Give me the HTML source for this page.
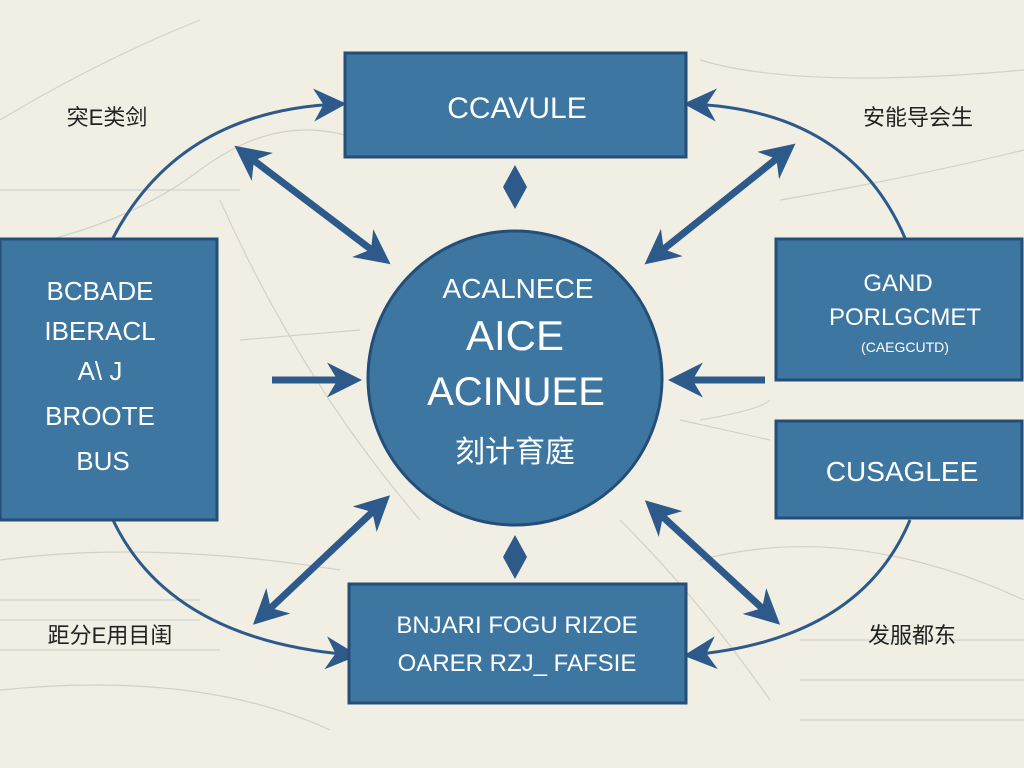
<!DOCTYPE html>
<html><head><meta charset="utf-8"><style>
html,body{margin:0;padding:0;width:1024px;height:768px;overflow:hidden;background:#f1efe4;}
svg{display:block}
text{font-family:"Liberation Sans","Noto Sans CJK SC",sans-serif;}
</style></head><body>
<svg width="1024" height="768" viewBox="0 0 1024 768" xmlns="http://www.w3.org/2000/svg">
<defs>
<marker id="ah" viewBox="0 0 10 10" refX="8" refY="5" markerWidth="5" markerHeight="5" orient="auto-start-reverse"><path d="M0,0 L10,5 L0,10 L3,5 Z" fill="#2d5a8a"/></marker>
<marker id="ah2" viewBox="0 0 10 10" refX="8" refY="5" markerWidth="11" markerHeight="11" orient="auto-start-reverse"><path d="M0,0 L10,5 L0,10 L3,5 Z" fill="#2d5a8a"/></marker>
</defs>
<rect width="1024" height="768" fill="#f1efe4"/>
<g stroke="#c9cbc4" stroke-width="1.2" fill="none" opacity="0.8">
<path d="M0,120 Q100,60 200,20"/><path d="M0,250 Q120,230 200,170 T360,140"/>
<path d="M700,60 Q800,90 1024,70"/><path d="M780,200 Q900,180 1024,150"/>
<path d="M0,560 Q150,540 340,570"/><path d="M0,690 Q200,670 330,730"/>
<path d="M700,560 Q850,520 1024,600"/><path d="M700,420 Q760,410 770,400"/>
<path d="M220,200 Q300,380 420,520"/><path d="M620,520 Q700,600 770,700"/>
<path d="M0,600 L200,600 M0,620 L200,620 M0,650 L220,650"/>
<path d="M800,640 L1024,640 M800,680 L1024,680 M800,720 L1024,720"/>
<path d="M0,190 L240,190 M240,340 L360,330 M680,420 L770,440"/>
</g>
<g stroke="#2d5a8a" stroke-width="3" fill="none">
<path d="M113,238 Q180,110 340,104" marker-end="url(#ah2)"/>
<path d="M113,520 Q170,640 352,655" marker-end="url(#ah2)"/>
<path d="M905,238 Q850,110 690,104" marker-end="url(#ah2)"/>
<path d="M910,520 Q860,640 690,655" marker-end="url(#ah2)"/>
</g>
<g stroke="#2d5a8a" stroke-width="7" fill="none">
<path d="M240,150 L385,260" marker-start="url(#ah)" marker-end="url(#ah)"/>
<path d="M790,148 L650,260" marker-start="url(#ah)" marker-end="url(#ah)"/>
<path d="M258,620 L385,500" marker-start="url(#ah)" marker-end="url(#ah)"/>
<path d="M775,620 L650,505" marker-start="url(#ah)" marker-end="url(#ah)"/>
<path d="M272,380 L355,380" marker-end="url(#ah)"/>
<path d="M765,380 L675,380" marker-end="url(#ah)"/>
</g>
<path d="M515,165 L527,187 L515,209 L503,187 Z" fill="#2d5a8a"/>
<path d="M515,535 L527,557 L515,579 L503,557 Z" fill="#2d5a8a"/>
<g fill="#3e76a2" stroke="#244e78" stroke-width="3">
<rect x="345" y="53" width="341" height="104"/>
<rect x="0" y="239" width="217" height="281"/>
<rect x="776" y="239" width="246" height="141"/>
<rect x="776" y="421" width="246" height="97"/>
<rect x="349" y="584" width="337" height="119"/>
<circle cx="515" cy="378" r="147"/>
</g>
<g fill="#fff" text-anchor="middle">
<text x="517" y="118" font-size="30">CCAVULE</text>
<text x="100" y="300" font-size="26">BCBADE</text>
<text x="100" y="340" font-size="26">IBERACL</text>
<text x="100" y="380" font-size="26">A\ J</text>
<text x="100" y="425" font-size="26">BROOTE</text>
<text x="103" y="470" font-size="26">BUS</text>
<text x="898" y="291" font-size="24">GAND</text>
<text x="905" y="325" font-size="24">PORLGCMET</text>
<text x="905" y="352" font-size="14">(CAEGCUTD)</text>
<text x="902" y="481" font-size="28">CUSAGLEE</text>
<text x="517" y="633" font-size="24">BNJARI FOGU RIZOE</text>
<text x="517" y="671" font-size="24">OARER RZJ_ FAFSIE</text>
<text x="518" y="298" font-size="28">ACALNECE</text>
<text x="515" y="350" font-size="42">AICE</text>
<text x="516" y="405" font-size="40">ACINUEE</text>
<text x="515" y="462" font-size="30">刻计育庭</text>
</g>
<g fill="#222" font-size="22" text-anchor="middle">
<text x="107" y="125">突E类剑</text>
<text x="918" y="125">安能导会生</text>
<text x="110" y="643">距分E用目闺</text>
<text x="912" y="643">发服都东</text>
</g>
</svg>
</body></html>
